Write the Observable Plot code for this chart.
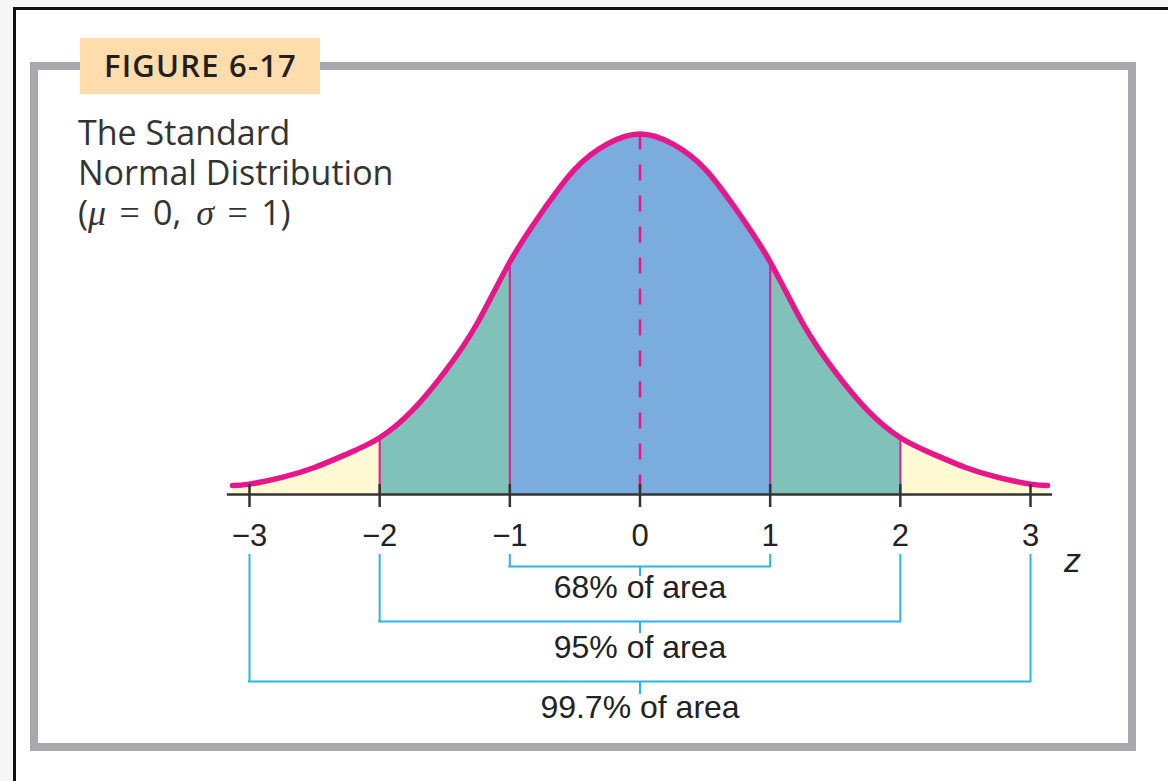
<!DOCTYPE html>
<html><head><meta charset="utf-8">
<script src="https://cdn.jsdelivr.net/npm/d3@7"></script>
<script src="https://cdn.jsdelivr.net/npm/@observablehq/plot@0.6"></script>
<style>
html,body{margin:0;padding:0}
body{width:1168px;height:781px;position:relative;overflow:hidden;background:#f6f6f6;font-family:"Open Sans",sans-serif}
#sheet{position:absolute;left:13px;top:7px;width:1160px;height:780px;background:#fff;border-top:3px solid #111;border-left:3px solid #111}
#frame{position:absolute;left:30px;top:62px;width:1106px;height:689px;border:8px solid #a8a9ac;box-sizing:border-box}
#badge{position:absolute;left:80px;top:38px;width:240px;height:56px;background:#fedcab}
#badgeText{position:absolute;left:104px;top:50px;font-weight:600;font-size:31px;letter-spacing:1.2px;color:#231f20;line-height:1;white-space:nowrap}
.desc{position:absolute;left:78px;font-size:34px;line-height:40px;height:40px;color:#333;white-space:nowrap}
.desc .m{display:inline-block;height:40px;font-family:"Liberation Serif","DejaVu Serif",serif;font-style:italic;font-size:36px}
.desc .s{margin-left:15px}
.desc .eq{display:inline-block;height:40px;width:47px;text-align:center;font-family:"Liberation Serif","DejaVu Serif",serif;font-size:36px}
#chart{position:absolute;left:0;top:0}
</style></head>
<body>
<div id="sheet"></div>
<div id="frame"></div>
<div id="badge"></div>
<div id="badgeText">FIGURE 6-17</div>
<div class="desc" style="top:112px">The Standard</div>
<div class="desc" style="top:152px">Normal Distribution</div>
<div class="desc" style="top:192px">(<span class="m">μ</span><span class="eq">=</span>0,<span class="m s">σ</span><span class="eq">=</span>1)</div>
<div id="chart"></div>
<script>
// ---- data ----
const curveX = [-3.13, -3, -2.75, -2.5, -2.25, -2, -1.75, -1.5, -1.25, -1, -0.75, -0.5, -0.25, 0,
                0.25, 0.5, 0.75, 1, 1.25, 1.5, 1.75, 2, 2.25, 2.5, 2.75, 3, 3.13];
const curveY = [0.010, 0.0115, 0.019, 0.030, 0.045, 0.063, 0.093, 0.136, 0.190, 0.258, 0.314, 0.361, 0.389, 0.400,
                0.389, 0.361, 0.314, 0.258, 0.190, 0.136, 0.093, 0.063, 0.045, 0.030, 0.019, 0.0115, 0.010];
const ticks = [-3, -2, -1, 0, 1, 2, 3];
const tickLabels = ["\u22123", "\u22122", "\u22121", "0", "1", "2", "3"];
const axisExtent = [-3.17, 3.17];
const edges = [-2, -1, 1, 2];
const bracketLo = [-1, -2, -3];
const bracketHi = [1, 2, 3];
const bracketLabels = ["68% of area", "95% of area", "99.7% of area"];

// ---- layout ----
const W = 1168, H = 781;
const AXIS_PX = 494, PEAK_PX = 133.5, PEAK_Y = 0.4;
const below = off => -PEAK_Y * off / (AXIS_PX - PEAK_PX); // pixel offset below axis -> y units
const legTop = 61, rowBar = [72, 127, 187], rowStem = [82, 139, 200], rowText = [93, 153, 213];
const MAG = "#e8168b", CYAN = "#2ab4e9";
const regionFill = ["#fffad3", "#80c2b9", "#7aaddd", "#80c2b9", "#fffad3"];
const regionBounds = [[-Infinity, -2], [-2, -1], [-1, 1], [1, 2], [2, Infinity]];
const CURVE = "natural";

const pts = curveX.map((x, i) => ({x, y: curveY[i]}));
const yAt = x => curveY[curveX.indexOf(x)];

const marks = [];
regionBounds.forEach(([lo, hi], i) => {
  marks.push(Plot.areaY(pts.filter(p => p.x >= lo && p.x <= hi),
    {x: "x", y: "y", fill: regionFill[i], curve: CURVE}));
});
marks.push(Plot.ruleX(edges, {x: d => d, y1: 0, y2: d => yAt(d), stroke: MAG, strokeWidth: 2}));
marks.push(Plot.ruleX([0], {x: d => d, y1: d => yAt(d), y2: 0, stroke: MAG, strokeWidth: 2.5, strokeDasharray: "16,15"}));
marks.push(Plot.lineY(pts, {x: "x", y: "y", stroke: MAG, strokeWidth: 5.5, curve: CURVE, strokeLinecap: "round"}));
marks.push(Plot.ruleY([0], {y: d => d, x1: axisExtent[0], x2: axisExtent[1], stroke: "#333", strokeWidth: 2.5}));
marks.push(Plot.ruleX(ticks, {x: d => d, y1: below(-10), y2: below(13), stroke: "#333", strokeWidth: 2.5}));
marks.push(Plot.axisX(ticks, {tickSize: 0, tickPadding: 29, tickFormat: d => tickLabels[ticks.indexOf(d)], label: null, fill: "#222", fontSize: 31}));
marks.push(Plot.text(["z"], {frameAnchor: "bottom-right", dx: 42, dy: 67, text: d => d, fontStyle: "italic", fontSize: 34, fill: "#222", textAnchor: "middle", lineAnchor: "middle"}));

bracketLabels.forEach((lab, i) => {
  const lo = bracketLo[i], hi = bracketHi[i], mid = (lo + hi) / 2;
  const b = {lo, hi, mid, lab};
  marks.push(Plot.ruleX([lo, hi], {x: d => d, y1: below(legTop), y2: below(rowBar[i]), stroke: CYAN, strokeWidth: 2, strokeLinecap: "square"}));
  marks.push(Plot.ruleY([b], {x1: d => d.lo, x2: d => d.hi, y: below(rowBar[i]), stroke: CYAN, strokeWidth: 2, strokeLinecap: "square"}));
  marks.push(Plot.ruleX([b], {x: d => d.mid, y1: below(rowBar[i]), y2: below(rowStem[i]), stroke: CYAN, strokeWidth: 2}));
  marks.push(Plot.text([b], {x: d => d.mid, y: below(rowText[i]), text: d => d.lab, fontSize: 32, fill: "#222", textAnchor: "middle", lineAnchor: "middle"}));
});

const chart = Plot.plot({
  width: W, height: H,
  marginLeft: 249, marginRight: W - 1030,
  marginTop: PEAK_PX, marginBottom: H - AXIS_PX,
  x: {domain: [-3, 3], label: null},
  y: {domain: [0, PEAK_Y], axis: null, label: null},
  style: {background: "transparent", overflow: "visible", fontFamily: "'Liberation Sans', Arial, Helvetica, sans-serif", fontSize: "31px"},
  marks
});
document.getElementById("chart").appendChild(chart);
</script>
</body></html>
